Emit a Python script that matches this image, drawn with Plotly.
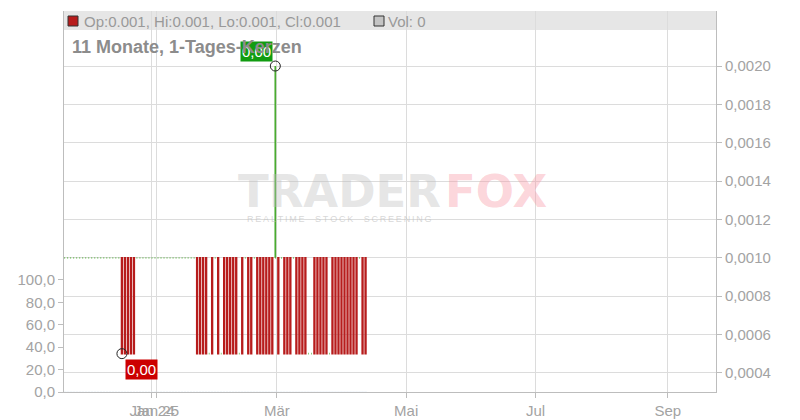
import pandas as pd
import plotly.graph_objects as go

# Handelstage (Mo-Fr), Kerzen jeweils zur Tagesmitte
dates = pd.bdate_range("2024-11-22", "2025-04-11") + pd.Timedelta(hours=12)

opens = [
    0.001, 0.001, 0.001, 0.001, 0.001, 0.001, 0.001, 0.001, 0.001, 0.001,
    0.001, 0.001, 0.001, 0.001, 0.001, 0.001, 0.001, 0.001, 0.001, 0.001,
    0.001, 0.001, 0.001, 0.001, 0.001, 0.001, 0.001, 0.001, 0.001, 0.001,
    0.001, 0.001, 0.001, 0.001, 0.001, 0.001, 0.001, 0.001, 0.001, 0.001,
    0.001, 0.001, 0.001, 0.001, 0.001, 0.001, 0.001, 0.001, 0.0005, 0.001,
    0.001, 0.001, 0.0005, 0.001, 0.001, 0.001, 0.001, 0.001, 0.0005, 0.001,
    0.001, 0.001, 0.001, 0.001, 0.001, 0.001, 0.001, 0.001, 0.001, 0.001,
    0.001, 0.001, 0.001, 0.001, 0.001, 0.001, 0.001, 0.001, 0.001, 0.001,
    0.001, 0.0005, 0.0005, 0.001, 0.001, 0.001, 0.001, 0.001, 0.0005, 0.001,
    0.001, 0.001, 0.001, 0.001, 0.001, 0.001, 0.001, 0.001, 0.001, 0.001,
    0.001,
]
highs = [
    0.001, 0.001, 0.001, 0.001, 0.001, 0.001, 0.001, 0.001, 0.001, 0.001,
    0.001, 0.001, 0.001, 0.001, 0.001, 0.001, 0.001, 0.001, 0.001, 0.001,
    0.001, 0.001, 0.001, 0.001, 0.001, 0.001, 0.001, 0.001, 0.001, 0.001,
    0.001, 0.001, 0.001, 0.001, 0.001, 0.001, 0.001, 0.001, 0.001, 0.001,
    0.001, 0.001, 0.001, 0.001, 0.001, 0.001, 0.001, 0.001, 0.0005, 0.001,
    0.001, 0.001, 0.0005, 0.001, 0.001, 0.001, 0.001, 0.001, 0.0005, 0.001,
    0.001, 0.001, 0.001, 0.001, 0.001, 0.001, 0.001, 0.001, 0.001, 0.001,
    0.002, 0.001, 0.001, 0.001, 0.001, 0.001, 0.001, 0.001, 0.001, 0.001,
    0.001, 0.0005, 0.0005, 0.001, 0.001, 0.001, 0.001, 0.001, 0.0005, 0.001,
    0.001, 0.001, 0.001, 0.001, 0.001, 0.001, 0.001, 0.001, 0.001, 0.001,
    0.001,
]
lows = [
    0.001, 0.001, 0.001, 0.001, 0.001, 0.001, 0.001, 0.001, 0.001, 0.001,
    0.001, 0.001, 0.001, 0.001, 0.001, 0.001, 0.001, 0.001, 0.001, 0.0005,
    0.0005, 0.0005, 0.0005, 0.0005, 0.001, 0.001, 0.001, 0.001, 0.001, 0.001,
    0.001, 0.001, 0.001, 0.001, 0.001, 0.001, 0.001, 0.001, 0.001, 0.001,
    0.001, 0.001, 0.001, 0.001, 0.0005, 0.0005, 0.0005, 0.0005, 0.0005, 0.0005,
    0.001, 0.0005, 0.0005, 0.0005, 0.0005, 0.0005, 0.0005, 0.0005, 0.0005, 0.0005,
    0.001, 0.0005, 0.0005, 0.001, 0.0005, 0.0005, 0.0005, 0.0005, 0.0005, 0.0005,
    0.001, 0.0005, 0.001, 0.0005, 0.0005, 0.0005, 0.001, 0.0005, 0.0005, 0.0005,
    0.0005, 0.0005, 0.0005, 0.0005, 0.0005, 0.0005, 0.0005, 0.0005, 0.0005, 0.0005,
    0.0005, 0.0005, 0.0005, 0.0005, 0.0005, 0.0005, 0.0005, 0.0005, 0.001, 0.0005,
    0.0005,
]
closes = [
    0.001, 0.001, 0.001, 0.001, 0.001, 0.001, 0.001, 0.001, 0.001, 0.001,
    0.001, 0.001, 0.001, 0.001, 0.001, 0.001, 0.001, 0.001, 0.001, 0.0005,
    0.0005, 0.0005, 0.0005, 0.0005, 0.001, 0.001, 0.001, 0.001, 0.001, 0.001,
    0.001, 0.001, 0.001, 0.001, 0.001, 0.001, 0.001, 0.001, 0.001, 0.001,
    0.001, 0.001, 0.001, 0.001, 0.0005, 0.0005, 0.0005, 0.0005, 0.0005, 0.0005,
    0.001, 0.0005, 0.0005, 0.0005, 0.0005, 0.0005, 0.0005, 0.0005, 0.0005, 0.0005,
    0.001, 0.0005, 0.0005, 0.001, 0.0005, 0.0005, 0.0005, 0.0005, 0.0005, 0.0005,
    0.001, 0.0005, 0.001, 0.0005, 0.0005, 0.0005, 0.001, 0.0005, 0.0005, 0.0005,
    0.0005, 0.0005, 0.0005, 0.0005, 0.0005, 0.0005, 0.0005, 0.0005, 0.0005, 0.0005,
    0.0005, 0.0005, 0.0005, 0.0005, 0.0005, 0.0005, 0.0005, 0.0005, 0.001, 0.0005,
    0.0005,
]
volumes = [
    0, 0, 0, 0, 0, 0, 0, 0, 0, 0,
    0, 0, 0, 0, 0, 0, 0, 0, 0, 0,
    0, 0, 0, 0, 0, 0, 0, 0, 0, 0,
    0, 0, 0, 0, 0, 0, 0, 0, 0, 0,
    0, 0, 0, 0, 0, 0, 0, 0, 0, 0,
    0, 0, 0, 0, 0, 0, 0, 0, 0, 0,
    0, 0, 0, 0, 0, 0, 0, 0, 0, 0,
    0, 0, 0, 0, 0, 0, 0, 0, 0, 0,
    0, 0, 0, 0, 0, 0, 0, 0, 0, 0,
    0, 0, 0, 0, 0, 0, 0, 0, 0, 0,
    0,
]

volume_ticks = [0, 20, 40, 60, 80, 100]
price_ticks = [0.0004, 0.0006, 0.0008, 0.0010, 0.0012, 0.0014, 0.0016, 0.0018, 0.0020]
tick_dates = ["2025-01-02 12:00", "2025-01-06", "2025-03-03", "2025-05-01", "2025-07-01", "2025-09-01"]
tick_labels = ["Jan 24", "Jan 25", "Mär", "Mai", "Jul", "Sep"]

header_text = "Op:0.001, Hi:0.001, Lo:0.001, Cl:0.001"
vol_text = "Vol: 0"
title_text = "11 Monate, 1-Tages-Kerzen"

FONT = "Liberation Sans, Arial, sans-serif"
RED = "#b71c1c"
GREEN = "#4aab30"
GRID = "#dcdcdc"
LINE = "#bdbdbd"
TXT = "#a3a3a3"

# die Seite setzt die Grafik 8px nach rechts/unten (Body-Rand)
OFF = 8
W, H = 800 - OFF, 420 - OFF
# Plotbereich in Seitenpixeln
L, R, T, B = 64, 716, 11, 392


def px(x):
    return (x - L) / (R - L)


def py(y):
    return (B - y) / (B - T)


fig = go.Figure()

# Volumen (linke Achse)
fig.add_trace(go.Bar(x=dates, y=volumes, marker_color="#c4c4c4",
                     yaxis="y", hoverinfo="skip", showlegend=False))

# fallende Kerzen rot, alles andere (auch Dojis) gruen
down = [c < o for o, c in zip(opens, closes)]


def pick(seq, keep):
    return [v for v, d in zip(seq, down) if d == keep]


for keep, color in ((False, GREEN), (True, RED)):
    style = dict(line=dict(color=color, width=1.7), fillcolor=color)
    fig.add_trace(go.Candlestick(
        x=pick(dates, keep), open=pick(opens, keep), high=pick(highs, keep),
        low=pick(lows, keep), close=pick(closes, keep),
        increasing=style, decreasing=style, whiskerwidth=0,
        yaxis="y2", hoverinfo="skip", showlegend=False,
    ))

# Tief / Hoch markieren
i_lo = lows.index(min(lows))
i_hi = highs.index(max(highs))
fig.add_trace(go.Scatter(
    x=[dates[i_lo], dates[i_hi]], y=[lows[i_lo], highs[i_hi]],
    mode="markers", yaxis="y2", hoverinfo="skip", showlegend=False,
    marker=dict(symbol="circle-open", size=10, color="#222", line=dict(width=1)),
))


def fmt(v):
    return f"{v:.2f}".replace(".", ",")


fig.add_annotation(x=dates[i_hi], y=highs[i_hi], xref="x", yref="y2", text=fmt(highs[i_hi]),
                   showarrow=False, xanchor="right", yanchor="bottom", xshift=-2, yshift=4,
                   bgcolor="#119c11", borderpad=1, font=dict(color="white", size=15))
fig.add_annotation(x=dates[i_lo], y=lows[i_lo], xref="x", yref="y2", text=fmt(lows[i_lo]),
                   showarrow=False, xanchor="left", yanchor="top", xshift=3, yshift=-5,
                   bgcolor="#cc0000", borderpad=1, font=dict(color="white", size=15))

# Titel ueber der gruenen Marke
fig.add_annotation(x=px(70), y=py(47), xref="x domain", yref="y domain", text=f"<b>{title_text}</b>",
                   showarrow=False, xanchor="left", yanchor="middle",
                   font=dict(size=18, color="#8c8c8c"))

# Wasserzeichen
fig.add_annotation(x=px(443), y=py(191), xref="paper", yref="paper", text="<b>TRADER</b>",
                   showarrow=False, xanchor="right", yanchor="middle",
                   font=dict(family="DejaVu Sans", size=45, color="rgba(190,190,190,0.4)"))
fig.add_annotation(x=px(443), y=py(191), xref="paper", yref="paper", text="<b>FOX</b>",
                   showarrow=False, xanchor="left", yanchor="middle",
                   font=dict(family="DejaVu Sans", size=45, color="rgba(248,150,162,0.4)"))
fig.add_annotation(x=px(339), y=py(219), xref="paper", yref="paper",
                   text="\u2009".join("REALTIME  STOCK  SCREENING"),
                   showarrow=False, xanchor="center", yanchor="middle",
                   font=dict(family=FONT, size=9, color="rgba(190,190,190,0.6)"))

# Kopfzeile
fig.add_shape(type="rect", xref="paper", yref="paper", x0=0, x1=1, y0=py(30), y1=1,
              fillcolor="#e6e6e6", line=dict(width=0), layer="below")
fig.add_shape(type="rect", xref="paper", yref="paper", x0=px(68), x1=px(78), y0=py(26), y1=py(16),
              fillcolor=RED, line=dict(color="#333", width=1))
fig.add_shape(type="rect", xref="paper", yref="paper", x0=px(374), x1=px(384), y0=py(26), y1=py(16),
              fillcolor="#c4c4c4", line=dict(color="#333", width=1))
fig.add_annotation(x=px(82), y=py(21), xref="paper", yref="paper", text=header_text,
                   showarrow=False, xanchor="left", yanchor="middle",
                   font=dict(size=15, color="#999999"))
fig.add_annotation(x=px(386), y=py(21), xref="paper", yref="paper", text=vol_text,
                   showarrow=False, xanchor="left", yanchor="middle",
                   font=dict(size=15, color="#999999"))

axis_common = dict(ticks="outside", ticklen=5, tickcolor=LINE, showline=True, automargin=False,
                   linecolor=LINE, zeroline=False, tickfont=dict(size=15, color=TXT))

fig.update_layout(
    width=W, height=H,
    margin=dict(l=L - OFF, r=800 - R, t=T - OFF, b=420 - B, pad=0),
    paper_bgcolor="white", plot_bgcolor="white",
    showlegend=False, hovermode=False, separators=",.", boxgap=0.7,
    font=dict(family=FONT, size=15, color=TXT),
    xaxis=dict(type="date", range=["2024-11-22 06:00", "2025-09-23 00:00"],
               rangebreaks=[dict(bounds=["sat", "mon"])],
               rangeslider=dict(visible=False), tickangle=0,
               tickmode="array", tickvals=tick_dates, ticktext=tick_labels,
               showgrid=True, gridcolor=GRID, **axis_common),
    yaxis=dict(range=[0, 340], tickmode="array", tickvals=volume_ticks, tickformat=".1f",
               showgrid=False, side="left", **axis_common),
    yaxis2=dict(range=[0.0003, 0.002287], overlaying="y", side="right", anchor="x",
                tickmode="array", tickvals=price_ticks, tickformat=".4f",
                showgrid=True, gridcolor=GRID, **axis_common),
)

fig.write_html("out.html")
